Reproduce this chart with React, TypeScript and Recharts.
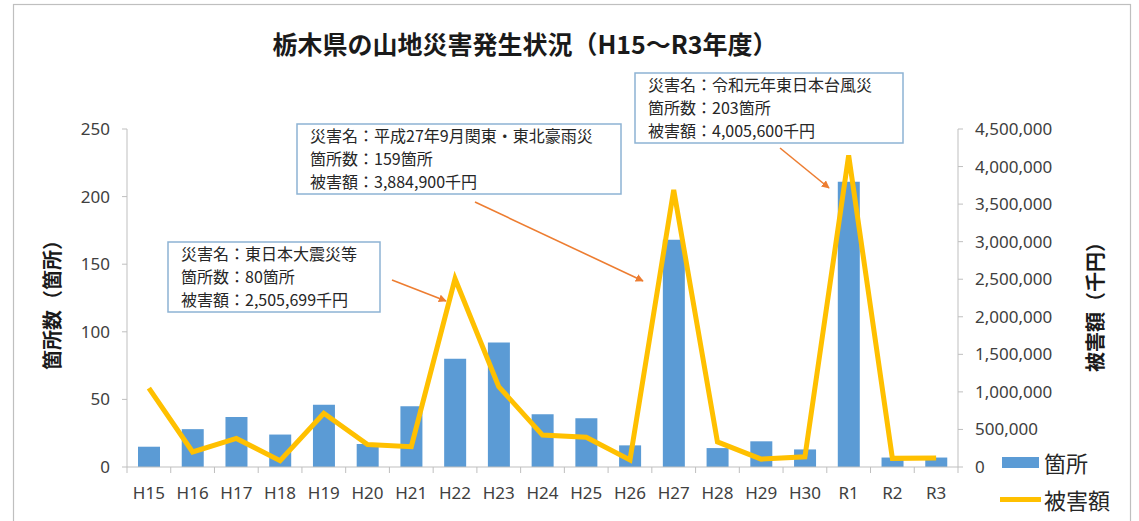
import { ComposedChart, Bar, Line, XAxis, YAxis } from 'recharts';

const years = ['H15', 'H16', 'H17', 'H18', 'H19', 'H20', 'H21', 'H22', 'H23', 'H24', 'H25', 'H26', 'H27', 'H28', 'H29', 'H30', 'R1', 'R2', 'R3'];
// 箇所数 (箇所)
const counts = [15, 28, 37, 24, 46, 17, 45, 80, 92, 39, 36, 16, 168, 14, 19, 13, 211, 7, 7];
// 被害額 (千円)
const damages = [1050000, 200000, 380000, 85000, 715000, 300000, 270000, 2505699, 1070000, 425000, 395000, 95000, 3690000, 335000, 105000, 135000, 4150000, 115000, 120000];

const leftTicks = [0, 50, 100, 150, 200, 250];
const rightTicks = [0, 500000, 1000000, 1500000, 2000000, 2500000, 3000000, 3500000, 4000000, 4500000];

const data = years.map((y, i) => ({ year: y, count: counts[i], damage: damages[i] }));

const W = 1139;
const H = 521;
const PLOT_LEFT = 127;
const PLOT_RIGHT = 958;
const BAND = (PLOT_RIGHT - PLOT_LEFT) / years.length;

const BLUE = '#5B9BD5';
const GOLD = '#FFC000';
const AXIS = '#BFBFBF';
const TEXT = '#404040';
const ORANGE = '#ED7D31';
const BOX = '#8DB3D4';
const NUM_FONT = '"Noto Sans", "Noto Sans CJK JP", sans-serif';
const JP_FONT = '"Noto Sans CJK JP", "Noto Sans", sans-serif';

const XTick = (props: any) => {
  const { x, y, payload, index } = props;
  const half = BAND / 2;
  return (
    <g>
      <line x1={x - half} x2={x - half} y1={y} y2={y + 6} stroke={AXIS} />
      {index === years.length - 1 && <line x1={x + half} x2={x + half} y1={y} y2={y + 6} stroke={AXIS} />}
      <text x={x} y={y + 25} textAnchor="middle" dominantBaseline="central" fill={TEXT} fontSize={17} fontFamily={NUM_FONT}>
        {payload.value}
      </text>
    </g>
  );
};

// legend drawn outside the chart so it takes no room from the plot
const LegendBox = () => (
  <div
    style={{
      position: 'absolute',
      left: 1000,
      top: 444,
      fontFamily: JP_FONT,
      fontSize: 22,
      color: '#262626',
      lineHeight: '37px',
    }}
  >
    <div style={{ display: 'flex', alignItems: 'center' }}>
      <span style={{ display: 'inline-block', width: 37, height: 11, background: BLUE, marginLeft: 2, marginRight: 5 }} />
      箇所
    </div>
    <div style={{ display: 'flex', alignItems: 'center' }}>
      <span style={{ display: 'inline-block', width: 41, height: 5, background: GOLD, marginRight: 3 }} />
      被害額
    </div>
  </div>
);

interface NoteProps {
  x: number;
  y: number;
  w: number;
  lines: string[];
}

const Note = ({ x, y, w, lines }: NoteProps) => (
  <g>
    <rect x={x} y={y} width={w} height={70} fill="#fff" stroke={BOX} strokeWidth={1.5} />
    {lines.map((t, i) => (
      <text key={i} x={x + 13} y={y + 11 + i * 23} dominantBaseline="central" fontSize={16} fill="#262626" fontFamily={JP_FONT}>
        {t}
      </text>
    ))}
  </g>
);

const Arrow = ({ x1, y1, x2, y2 }: { x1: number; y1: number; x2: number; y2: number }) => (
  <line x1={x1} y1={y1} x2={x2} y2={y2} stroke={ORANGE} strokeWidth={1.6} markerEnd="url(#ah)" />
);

export default function App() {
  return (
    <div style={{ position: 'fixed', left: 0, top: 0, width: W, height: H, background: '#fff', overflow: 'hidden' }}>
      <ComposedChart width={W} height={H} data={data} margin={{ top: 129, right: 91, bottom: 24, left: 67 }}>
        <XAxis
          dataKey="year"
          interval={0}
          height={30}
          stroke={AXIS}
          tickLine={false}
          tickSize={0}
          tickMargin={0}
          tick={<XTick />}
        />
        <YAxis
          yAxisId="left"
          orientation="left"
          width={60}
          domain={[0, 250]}
          ticks={leftTicks}
          stroke={AXIS}
          tickSize={5}
          tickMargin={12}
          tick={{ fill: TEXT, fontSize: 17, fontFamily: NUM_FONT }}
        />
        <YAxis
          yAxisId="right"
          orientation="right"
          width={90}
          domain={[0, 4500000]}
          ticks={rightTicks}
          stroke={AXIS}
          tickSize={5}
          tickMargin={12}
          tickFormatter={(v: number) => v.toLocaleString('en-US')}
          tick={{ fill: TEXT, fontSize: 17, fontFamily: NUM_FONT, textAnchor: 'start' }}
        />
        <Bar yAxisId="left" dataKey="count" name="箇所" fill={BLUE} barSize={22} isAnimationActive={false} />
        <Line
          yAxisId="right"
          dataKey="damage"
          name="被害額"
          type="linear"
          stroke={GOLD}
          strokeWidth={5}
          dot={false}
          activeDot={false}
          isAnimationActive={false}
        />
      </ComposedChart>

      <LegendBox />

      <svg width={W} height={H} style={{ position: 'absolute', left: 0, top: 0, pointerEvents: 'none' }}>
        <defs>
          <marker id="ah" viewBox="0 0 10 10" refX="9" refY="5" markerWidth="5" markerHeight="5" orient="auto">
            <path d="M0,0 L10,5 L0,10 z" fill={ORANGE} />
          </marker>
        </defs>
        <rect x={13.5} y={4.5} width={1117} height={540} fill="none" stroke={AXIS} strokeWidth={1.2} />
        <text x={525} y={43} textAnchor="middle" dominantBaseline="central" fontSize={25} fontWeight="bold" fill="#1a1a1a" fontFamily={JP_FONT}>
          栃木県の山地災害発生状況（H15～R3年度）
        </text>
        <text
          transform="translate(51,300) rotate(-90)"
          textAnchor="middle"
          dominantBaseline="central"
          fontSize={20}
          fontWeight="bold"
          fill="#1a1a1a"
          fontFamily={JP_FONT}
        >
          箇所数（箇所）
        </text>
        <text
          transform="translate(1094,302) rotate(-90)"
          textAnchor="middle"
          dominantBaseline="central"
          fontSize={20}
          fontWeight="bold"
          fill="#1a1a1a"
          fontFamily={JP_FONT}
        >
          被害額（千円）
        </text>

        <Note x={168} y={242} w={212} lines={['災害名：東日本大震災等', '箇所数：80箇所', '被害額：2,505,699千円']} />
        <Note x={297} y={124} w={324} lines={['災害名：平成27年9月関東・東北豪雨災', '箇所数：159箇所', '被害額：3,884,900千円']} />
        <Note x={635} y={73} w={268} lines={['災害名：令和元年東日本台風災', '箇所数：203箇所', '被害額：4,005,600千円']} />

        <Arrow x1={392} y1={280} x2={446} y2={301} />
        <Arrow x1={475} y1={202} x2={643} y2={281} />
        <Arrow x1={780} y1={148} x2={829} y2={188} />
      </svg>
    </div>
  );
}
